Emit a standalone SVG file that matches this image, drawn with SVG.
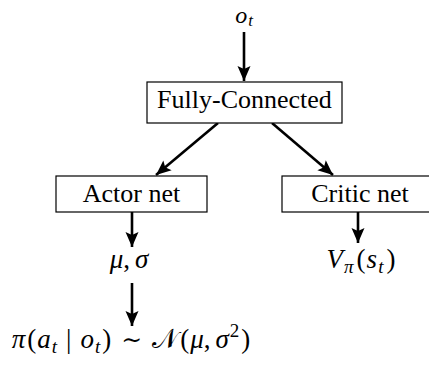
<svg xmlns="http://www.w3.org/2000/svg" width="429" height="366" viewBox="0 0 429 366">
<style>
.box{fill:#fff;stroke:#000;stroke-width:1.2}
.lbl{font-family:"Liberation Serif","Times New Roman",serif;font-size:26px;fill:#000}
.m{font-family:"Liberation Serif","DejaVu Serif",serif;font-size:27px;fill:#000}
.i{font-style:italic}
.s{font-size:19px}
.tl{font-family:"DejaVu Serif",serif;font-size:25px}
.edge{stroke:#000;stroke-width:2.6;fill:none}
</style>
<defs>
<marker id="ah" markerUnits="userSpaceOnUse" viewBox="-16 -8 18 16" refX="0" refY="0" markerWidth="18" markerHeight="16" orient="auto">
<path d="M0,0 L-15,-6.5 L-12,0 L-15,6.5 Z" fill="#000"/>
</marker>
</defs>
<g id="connectors">
<line class="edge" x1="244" y1="32" x2="244" y2="81" marker-end="url(#ah)"/>
<line class="edge" x1="218" y1="123" x2="156" y2="175" marker-end="url(#ah)"/>
<line class="edge" x1="272" y1="123" x2="333" y2="175" marker-end="url(#ah)"/>
<line class="edge" x1="132" y1="212" x2="132" y2="247" marker-end="url(#ah)"/>
<line class="edge" x1="358" y1="212" x2="358" y2="243" marker-end="url(#ah)"/>
<line class="edge" x1="132" y1="283" x2="132" y2="326" marker-end="url(#ah)"/>
</g>
<g id="obs">
<text class="m" x="244" y="23" style="font-size:24px" text-anchor="middle"><tspan class="i">o</tspan><tspan class="i" style="font-size:17px" dx="1" dy="3">t</tspan></text>
</g>
<g id="fc">
<rect class="box" x="147" y="82" width="195" height="41"/>
<text class="lbl" x="244.5" y="108" text-anchor="middle">Fully-Connected</text>
</g>
<g id="actor">
<rect class="box" x="56" y="176" width="151" height="36"/>
<text class="lbl" x="131.5" y="202" text-anchor="middle">Actor net</text>
</g>
<g id="critic">
<rect class="box" x="282" y="176" width="152" height="36"/>
<text class="lbl" x="360" y="202" text-anchor="middle">Critic net</text>
</g>
<g id="musigma">
<text class="m" x="129" y="268" text-anchor="middle"><tspan class="i">μ</tspan>,<tspan class="i" dx="5">σ</tspan></text>
</g>
<g id="value">
<text class="m" x="361" y="268" text-anchor="middle"><tspan class="i">V</tspan><tspan class="i s" dx="1" dy="5">π</tspan><tspan dx="3" dy="-5">(</tspan><tspan class="i" dx="1">s</tspan><tspan class="i s" dx="1" dy="5">t</tspan><tspan dx="3" dy="-5">)</tspan></text>
</g>
<g id="policy">
<text class="m" x="131" y="348" text-anchor="middle"><tspan class="i">π</tspan><tspan dx="2">(</tspan><tspan class="i" dx="1">a</tspan><tspan class="i s" dx="1" dy="5">t</tspan><tspan dx="9" dy="-5">|</tspan><tspan class="i" dx="9">o</tspan><tspan class="i s" dx="1" dy="5">t</tspan><tspan dx="2" dy="-5">)</tspan><tspan class="tl" dx="10">∼</tspan><tspan dx="10">𝒩</tspan><tspan dx="2">(</tspan><tspan class="i" dx="1">μ</tspan>,<tspan class="i" dx="5">σ</tspan><tspan class="s" dx="1" dy="-11">2</tspan><tspan dx="2" dy="11">)</tspan></text>
</g>
</svg>
